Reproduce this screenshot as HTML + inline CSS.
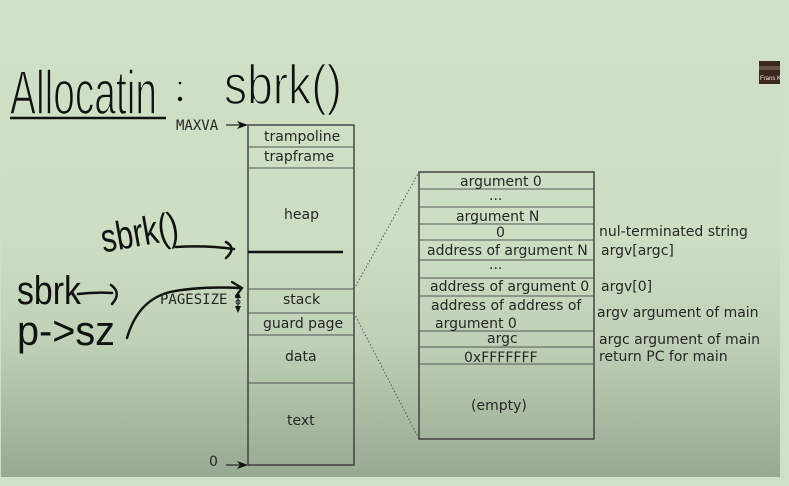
<!DOCTYPE html>
<html><head><meta charset="utf-8">
<style>
html,body{margin:0;padding:0;background:#cfe0c6;}
svg{display:block;}
.t{font-family:"DejaVu Sans","Liberation Sans",sans-serif;font-size:14px;fill:#262626;}
.m{font-family:"DejaVu Sans Mono","Liberation Mono",monospace;font-size:14px;fill:#262626;}
.h{font-family:"Liberation Sans","DejaVu Sans",sans-serif;fill:#111;stroke:#cfe0c6;stroke-width:1.6;}
.h2{font-family:"Liberation Sans","DejaVu Sans",sans-serif;fill:#111;}
</style></head>
<body>
<svg width="789" height="486" viewBox="0 0 789 486" xmlns="http://www.w3.org/2000/svg">
<defs>
<linearGradient id="bg" x1="0" y1="0" x2="0" y2="1">
<stop offset="0" stop-color="#cfe0c6"/>
<stop offset="0.5" stop-color="#cddec3"/>
<stop offset="0.72" stop-color="#bfd0b6"/>
<stop offset="1" stop-color="#98a991"/>
</linearGradient>
</defs>
<rect x="0" y="0" width="789" height="486" fill="#cfe0c6"/>
<rect x="1" y="0" width="779" height="477" fill="url(#bg)"/>

<!-- thumbnail -->
<rect x="759" y="61" width="21" height="23" fill="#3b271b"/>
<rect x="759" y="66" width="21" height="4" fill="#6a5040"/>
<text x="760" y="80" font-family="Liberation Sans,sans-serif" font-size="6" fill="#eee">Frans K</text>

<!-- handwriting -->
<text class="h" x="10" y="114" font-size="62" textLength="147" lengthAdjust="spacingAndGlyphs">Allocatin</text>
<line x1="10" y1="118" x2="166" y2="118" stroke="#111" stroke-width="2.6"/>
<circle cx="180" cy="83" r="1.3" fill="#111"/>
<circle cx="180" cy="99" r="2.2" fill="#111"/>
<text class="h" x="224" y="104" font-size="56" textLength="118" lengthAdjust="spacingAndGlyphs">sbrk()</text>

<text class="h2" x="100" y="246" font-size="40" textLength="78" lengthAdjust="spacingAndGlyphs" transform="rotate(-10 139 230)">sbrk()</text>
<path d="M176 247 Q205 245 234 249" fill="none" stroke="#111" stroke-width="2.5" stroke-linecap="round"/>
<path d="M226 242 Q237 248 226 258" fill="none" stroke="#111" stroke-width="2.5" stroke-linecap="round"/>

<text class="h2" x="17" y="304" font-size="40" textLength="64" lengthAdjust="spacingAndGlyphs">sbrk</text>
<path d="M78 294 Q96 292 112 293" fill="none" stroke="#111" stroke-width="2.5" stroke-linecap="round"/>
<path d="M111 285 Q122 293 112 304" fill="none" stroke="#111" stroke-width="2.5" stroke-linecap="round"/>

<text class="h2" x="17" y="345" font-size="42" textLength="98" lengthAdjust="spacingAndGlyphs">p-&gt;sz</text>

<path d="M127 338 Q138 300 170 292 Q200 286 240 288" fill="none" stroke="#111" stroke-width="2.4" stroke-linecap="round"/>
<path d="M232 282 L242 288 L236 296" fill="none" stroke="#111" stroke-width="2.2" stroke-linecap="round"/>

<!-- left memory box -->
<g stroke="#3a3a3a" fill="none">
<rect x="248" y="125" width="106" height="340" stroke-width="1.4"/>
<line x1="248" y1="147" x2="354" y2="147" stroke="#555" stroke-width="1"/>
<line x1="248" y1="168" x2="354" y2="168" stroke="#555" stroke-width="1"/>
<line x1="248" y1="289" x2="354" y2="289" stroke="#555" stroke-width="1"/>
<line x1="248" y1="313" x2="354" y2="313" stroke="#555" stroke-width="1"/>
<line x1="248" y1="335" x2="354" y2="335" stroke="#555" stroke-width="1"/>
<line x1="248" y1="383" x2="354" y2="383" stroke="#555" stroke-width="1"/>
</g>
<line x1="248" y1="252" x2="343" y2="252" stroke="#111" stroke-width="2.4"/>

<text class="t" x="264" y="141">trampoline</text>
<text class="t" x="264" y="161">trapframe</text>
<text class="t" x="284" y="219">heap</text>
<text class="t" x="283" y="304">stack</text>
<text class="t" x="263" y="328">guard page</text>
<text class="t" x="285" y="361">data</text>
<text class="t" x="287" y="425">text</text>

<text class="m" x="176" y="130">MAXVA</text>
<line x1="226" y1="125" x2="240" y2="125" stroke="#222" stroke-width="1.2"/>
<path d="M248 125 L237 121 L240 125 L237 129 Z" fill="#111"/>
<text class="t" x="209" y="466">0</text>
<line x1="226" y1="465" x2="240" y2="465" stroke="#222" stroke-width="1.2"/>
<path d="M248 465 L237 461 L240 465 L237 469 Z" fill="#111"/>

<text class="m" x="160" y="304">PAGESIZE</text>
<line x1="238" y1="294" x2="238" y2="311" stroke="#222" stroke-width="1.2"/>
<path d="M238 291 L235 298 L241 298 Z" fill="#111"/>
<path d="M238 313 L235 306 L241 306 Z" fill="#111"/>
<circle cx="238" cy="302" r="2" fill="none" stroke="#222" stroke-width="1"/>

<!-- dotted connectors -->
<line x1="354" y1="289" x2="419" y2="172" stroke="#555" stroke-width="1" stroke-dasharray="1.5 2"/>
<line x1="354" y1="313" x2="419" y2="439" stroke="#555" stroke-width="1" stroke-dasharray="1.5 2"/>

<!-- right stack box -->
<g stroke="#3a3a3a" fill="none">
<rect x="419" y="172" width="175" height="267" stroke-width="1.4"/>
<line x1="419" y1="189" x2="594" y2="189" stroke="#555"/>
<line x1="419" y1="207" x2="594" y2="207" stroke="#555"/>
<line x1="419" y1="224" x2="594" y2="224" stroke="#555"/>
<line x1="419" y1="240" x2="594" y2="240" stroke="#555"/>
<line x1="419" y1="260" x2="594" y2="260" stroke="#555"/>
<line x1="419" y1="278" x2="594" y2="278" stroke="#555"/>
<line x1="419" y1="296" x2="594" y2="296" stroke="#555"/>
<line x1="419" y1="331" x2="594" y2="331" stroke="#555"/>
<line x1="419" y1="347" x2="594" y2="347" stroke="#555"/>
<line x1="419" y1="364" x2="594" y2="364" stroke="#555"/>
</g>

<text class="t" x="460" y="186">argument 0</text>
<text class="t" x="489" y="200">...</text>
<text class="t" x="456" y="221">argument N</text>
<text class="t" x="496" y="237">0</text>
<text class="t" x="427" y="255">address of argument N</text>
<text class="t" x="489" y="269">...</text>
<text class="t" x="430" y="291">address of argument 0</text>
<text class="t" x="431" y="310">address of address of</text>
<text class="t" x="435" y="328">argument 0</text>
<text class="t" x="487" y="343">argc</text>
<text class="t" x="464" y="362">0xFFFFFFF</text>
<text class="t" x="471" y="410">(empty)</text>

<text class="t" x="599" y="236">nul-terminated string</text>
<text class="t" x="601" y="255">argv[argc]</text>
<text class="t" x="601" y="291">argv[0]</text>
<text class="t" x="597" y="317">argv argument of main</text>
<text class="t" x="599" y="344">argc argument of main</text>
<text class="t" x="599" y="361">return PC for main</text>
</svg>
</body></html>
